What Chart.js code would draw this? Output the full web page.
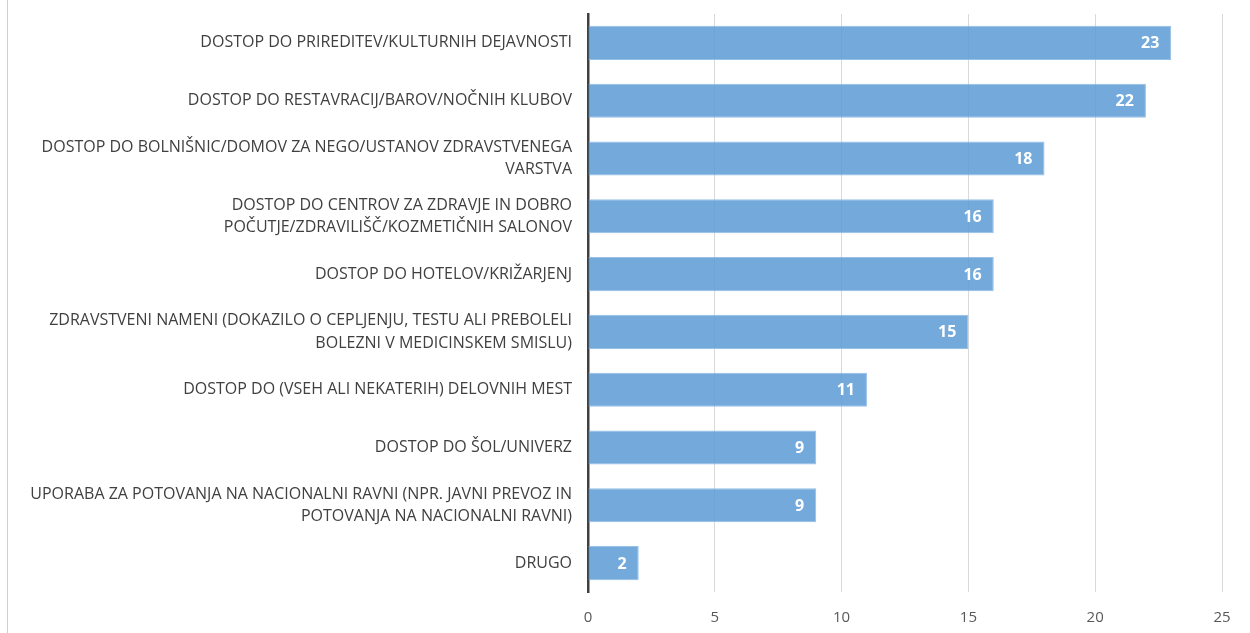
<!DOCTYPE html>
<html>
<head>
<meta charset="utf-8">
<script src="https://cdn.jsdelivr.net/npm/chart.js@4.4.0/dist/chart.umd.min.js"></script>
<style>
  html, body { margin: 0; padding: 0; background: #fff; }
  #wrap { position: relative; width: 1250px; height: 633px; }
  #frame { position: absolute; left: 7px; top: 0; width: 1px; height: 633px; background: #d0d0d0; }
</style>
</head>
<body>
<div id="wrap">
  <div id="frame"></div>
  <canvas id="barChart" width="1250" height="633"></canvas>
</div>
<script>
const categories = [
  'DOSTOP DO PRIREDITEV/KULTURNIH DEJAVNOSTI',
  'DOSTOP DO RESTAVRACIJ/BAROV/NOČNIH KLUBOV',
  ['DOSTOP DO BOLNIŠNIC/DOMOV ZA NEGO/USTANOV ZDRAVSTVENEGA', 'VARSTVA'],
  ['DOSTOP DO CENTROV ZA ZDRAVJE IN DOBRO', 'POČUTJE/ZDRAVILIŠČ/KOZMETIČNIH SALONOV'],
  'DOSTOP DO HOTELOV/KRIŽARJENJ',
  ['ZDRAVSTVENI NAMENI (DOKAZILO O CEPLJENJU, TESTU ALI PREBOLELI', 'BOLEZNI V MEDICINSKEM SMISLU)'],
  'DOSTOP DO (VSEH ALI NEKATERIH) DELOVNIH MEST',
  'DOSTOP DO ŠOL/UNIVERZ',
  ['UPORABA ZA POTOVANJA NA NACIONALNI RAVNI (NPR. JAVNI PREVOZ IN', 'POTOVANJA NA NACIONALNI RAVNI)'],
  'DRUGO'
];
const values = [23, 22, 18, 16, 16, 15, 11, 9, 9, 2];
const xTicks = [0, 5, 10, 15, 20, 25];

const FONT = '"Open Sans", "Liberation Sans", sans-serif';

// white bold numbers inside the bar end
const valueLabels = {
  id: 'valueLabels',
  afterDatasetsDraw(chart) {
    const c = chart.ctx;
    const meta = chart.getDatasetMeta(0);
    c.save();
    c.fillStyle = '#ffffff';
    c.font = 'bold 16px ' + FONT;
    c.textAlign = 'right';
    c.textBaseline = 'middle';
    meta.data.forEach((bar, i) => {
      c.fillText(String(values[i]), bar.x - 12, bar.y + 1);
    });
    c.restore();
  }
};

const ctx = document.getElementById('barChart').getContext('2d');
new Chart(ctx, {
  type: 'bar',
  data: {
    labels: categories,
    datasets: [{
      data: values,
      backgroundColor: 'rgba(91,155,213,0.85)',
      borderColor: 'rgba(140,185,228,0.9)',
      borderWidth: 1,
      categoryPercentage: 1,
      barPercentage: 0.59
    }]
  },
  options: {
    indexAxis: 'y',
    responsive: false,
    animation: false,
    layout: { padding: { top: 14, right: 28, bottom: 0, left: 0 } },
    plugins: { legend: { display: false }, tooltip: { enabled: false } },
    scales: {
      x: {
        min: 0,
        max: 25,
        afterBuildTicks: (s) => { s.ticks = xTicks.map(v => ({ value: v })); },
        grid: { color: '#d9d9d9', lineWidth: 1, drawTicks: false },
        border: { display: false },
        ticks: { color: '#595959', font: { family: FONT, size: 15 }, padding: 17 },
        afterFit: (s) => { s.height = 41; }
      },
      y: {
        grid: { display: false, drawTicks: false },
        border: { color: '#404040', width: 2.5 },
        ticks: { color: '#404040', font: { family: FONT, size: 16, lineHeight: 1.4 }, padding: 16, autoSkip: false },
        afterFit: (s) => { s.width = 588; s.paddingTop = 0; s.paddingBottom = 0; }
      }
    }
  },
  plugins: [valueLabels]
});
</script>
</body>
</html>
